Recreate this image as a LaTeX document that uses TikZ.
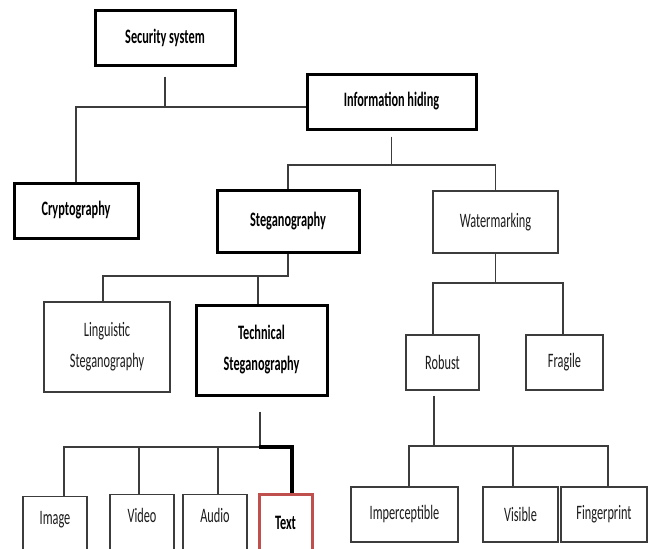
\documentclass[tikz,border=0pt]{standalone}
\usepackage{fontspec}
\setmainfont{Carlito}[FakeStretch=0.6]
\definecolor{ln}{HTML}{3C3C3C}
\definecolor{txtg}{HTML}{1C1C1C}
\definecolor{redb}{HTML}{C0504D}
\begin{document}
\begin{tikzpicture}[x=1pt,y=-1pt,
  box/.style={draw=ln,line width=1.4pt,rectangle,inner sep=0pt,align=center,
    font=\fontsize{20.5}{31}\selectfont,text=txtg},
  bbox/.style={box,draw=black,line width=3pt,text=black,font=\fontsize{20.5}{31}\selectfont\bfseries},
  conn/.style={draw=ln,line width=1.3pt},
  tconn/.style={draw=black,line width=4pt,line join=miter}]
\useasboundingbox (0,0) rectangle (654,549);
\clip (0,0) rectangle (654,549);
\fill[white] (0,0) rectangle (654,549);
% nodes
\node[bbox,minimum width=140pt,minimum height=55pt] (sec) at (165,37.5) {Security system};
\node[bbox,minimum width=169pt,minimum height=55pt] (info) at (391.5,101.5) {Information hiding};
\node[bbox,minimum width=124pt,minimum height=55pt] (crypt) at (76,210.5) {Cryptography};
\node[bbox,minimum width=142pt,minimum height=62pt] (steg) at (288,221) {Steganography};
\node[box,minimum width=125pt,minimum height=62pt] (water) at (495.5,222) {Watermarking};
\node[box,minimum width=126pt,minimum height=90pt] (ling) at (107,347) {Linguistic\\Steganography};
\node[bbox,minimum width=131pt,minimum height=90pt] (tech) at (261.5,350) {Technical\\Steganography};
\node[box,minimum width=73pt,minimum height=55pt] (robust) at (442.5,362.5) {Robust};
\node[box,minimum width=77pt,minimum height=55pt] (fragile) at (564.5,362.5) {Fragile};
\node[box,minimum width=107pt,minimum height=55pt] (imperc) at (404.5,514.5) {Imperceptible};
\node[box,minimum width=75pt,minimum height=55pt] (visible) at (520.5,514.5) {Visible};
\node[box,minimum width=86pt,minimum height=55pt] (finger) at (604,514.5) {Fingerprint};
\node[box,anchor=north,minimum width=64pt,text height=28pt,text depth=42pt] (image) at (55,496) {Image};
\node[box,anchor=north,minimum width=64pt,text height=27.5pt,text depth=42.5pt] (video) at (142,494) {Video};
\node[box,anchor=north,minimum width=64pt,text height=27.5pt,text depth=42.5pt] (audio) at (215,494) {Audio};
\node[box,draw=redb,line width=3pt,text=black,font=\fontsize{20.5}{31}\selectfont\bfseries,anchor=north,minimum width=53pt,text height=35pt,text depth=35pt] (text) at (285.5,493) {Text};
% junction coordinates
\coordinate (j1) at (165,107);
\coordinate (j2) at (391.5,165);
\coordinate (j3) at (288,276);
\coordinate (j4) at (495.5,283);
\coordinate (j5) at (434,446);
\coordinate (j6) at (260,447);
% connectors
\draw[conn] ([yshift=-10pt]sec.south) -- (j1);
\draw[conn] (crypt.north) |- (info.west |- j1);
\draw[conn] ([yshift=-6pt]info.south) -- (j2);
\draw[conn] (steg.north) |- (j2) -| (water.north);
\draw[conn] (steg.south) -- (j3) -| ([xshift=-4pt]ling.north);
\draw[conn] ([xshift=-3.5pt]tech.north) -- ([xshift=-3.5pt]tech.north |- j3);
\draw[conn] (water.south) -- (j4);
\draw[conn] ([xshift=-9.5pt]robust.north) |- (j4) -| ([xshift=-1.5pt]fragile.north);
\draw[conn] ([yshift=-5pt]robust.south -| j5) -- (j5);
\draw[conn] ([xshift=4.5pt]imperc.north) |- (j5) -| ([xshift=4pt]finger.north);
\draw[conn] ([xshift=-7.5pt]visible.north) -- ([xshift=-7.5pt]visible.north |- j5);
\draw[conn] ([yshift=-15pt]tech.south -| j6) -- (j6);
\draw[conn] ([xshift=9pt]image.north) |- (j6);
\draw[conn] ([xshift=-3pt]video.north) -- ([xshift=-3pt]video.north |- j6);
\draw[conn] ([xshift=3pt]audio.north) -- ([xshift=3pt]audio.north |- j6);
\draw[tconn] ([xshift=-1pt]j6) -| ([xshift=6.5pt]text.north);
\end{tikzpicture}
\end{document}
